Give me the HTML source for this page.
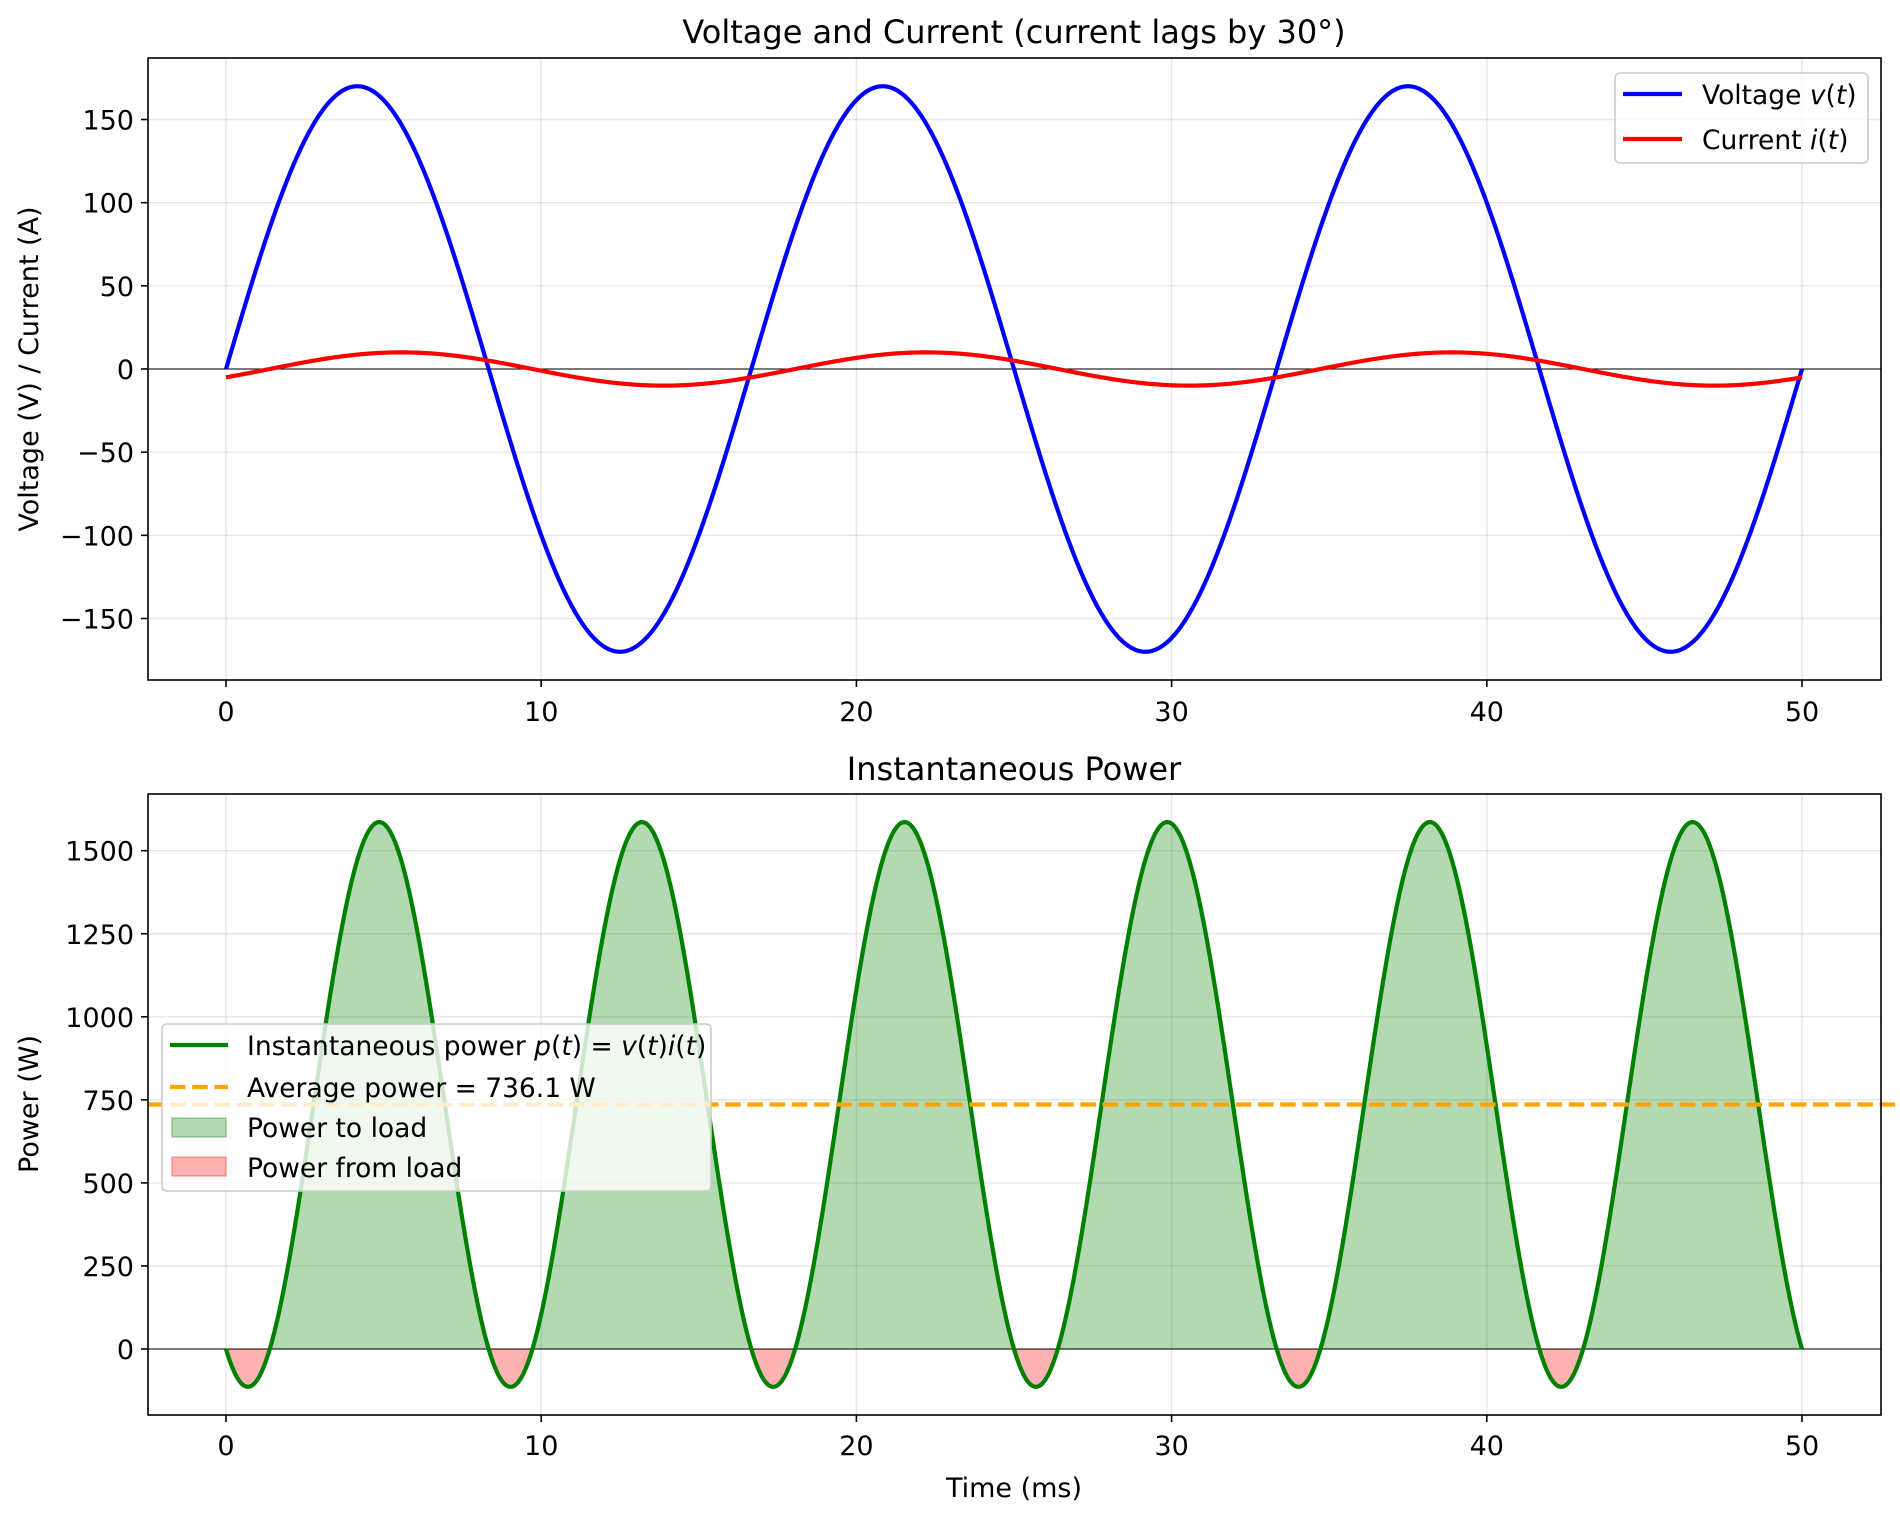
<!DOCTYPE html>
<html><head><meta charset="utf-8">
<style>
html,body{margin:0;padding:0;background:#fff;}
svg{display:block;font-family:"DejaVu Sans","Liberation Sans",sans-serif;}
</style></head>
<body>
<svg id="s" width="1900" height="1516" xmlns="http://www.w3.org/2000/svg">
<rect width="1900" height="1516" fill="#fff"/>
<g id="g"></g>
</svg>
<script>
var out="";
var X=function(t){return 226+t*31.52;};
var Y1=function(v){return 369-v*1.6633;};
var Y2=function(p){return 1349-p*0.3322;};
var w=2*Math.PI*60/1000, ph=Math.PI/6;
function gridX(top,bot){for(var t=0;t<=50;t+=10){out+='<line x1="'+X(t)+'" x2="'+X(t)+'" y1="'+top+'" y2="'+bot+'" stroke="#b0b0b0" stroke-opacity="0.3" stroke-width="1.4"/>';}}
gridX(58,680);gridX(794,1415);
for(var v=-150;v<=150;v+=50){out+='<line x1="148" x2="1881" y1="'+Y1(v)+'" y2="'+Y1(v)+'" stroke="#b0b0b0" stroke-opacity="0.3" stroke-width="1.4"/>';
 out+='<line x1="141" x2="148" y1="'+Y1(v)+'" y2="'+Y1(v)+'" stroke="#000" stroke-width="1.6"/>';
 out+='<text x="134" y="'+(Y1(v)+10)+'" font-size="27" text-anchor="end">'+(v<0?'\u2212'+(-v):v)+'</text>';}
for(var p=0;p<=1500;p+=250){out+='<line x1="148" x2="1881" y1="'+Y2(p)+'" y2="'+Y2(p)+'" stroke="#b0b0b0" stroke-opacity="0.3" stroke-width="1.4"/>';
 out+='<line x1="141" x2="148" y1="'+Y2(p)+'" y2="'+Y2(p)+'" stroke="#000" stroke-width="1.6"/>';
 out+='<text x="134" y="'+(Y2(p)+10)+'" font-size="27" text-anchor="end">'+p+'</text>';}
for(var t=0;t<=50;t+=10){
 out+='<line x1="'+X(t)+'" x2="'+X(t)+'" y1="680" y2="687" stroke="#000" stroke-width="1.6"/>';
 out+='<text x="'+X(t)+'" y="721" font-size="27" text-anchor="middle">'+t+'</text>';
 out+='<line x1="'+X(t)+'" x2="'+X(t)+'" y1="1415" y2="1422" stroke="#000" stroke-width="1.6"/>';
 out+='<text x="'+X(t)+'" y="1455" font-size="27" text-anchor="middle">'+t+'</text>';}
out+='<line x1="148" x2="1881" y1="'+Y1(0)+'" y2="'+Y1(0)+'" stroke="#000" stroke-width="1.1"/>';
var N=2000, pv="", pi="", pp="", fg="", fr="";
var P=function(t){return 1700*Math.sin(w*t)*Math.sin(w*t-ph);};
for(var k=0;k<=N;k++){var t=50*k/N;
 pv+=(k?'L':'M')+X(t).toFixed(2)+','+Y1(170*Math.sin(w*t)).toFixed(2);
 pi+=(k?'L':'M')+X(t).toFixed(2)+','+Y1(10*Math.sin(w*t-ph)).toFixed(2);
 var p=P(t);
 pp+=(k?'L':'M')+X(t).toFixed(2)+','+Y2(p).toFixed(2);
 fg+='L'+X(t).toFixed(2)+','+Y2(Math.max(p,0)).toFixed(2);
 fr+='L'+X(t).toFixed(2)+','+Y2(Math.min(p,0)).toFixed(2);}
var y0=Y2(0);
out+='<path d="M'+X(0)+','+y0+fg+'L'+X(50)+','+y0+'Z" fill="#008000" fill-opacity="0.3"/>';
out+='<path d="M'+X(0)+','+y0+fr+'L'+X(50)+','+y0+'Z" fill="#ff0000" fill-opacity="0.3"/>';
out+='<line x1="148" x2="1881" y1="'+y0+'" y2="'+y0+'" stroke="#000" stroke-width="1.1"/>';
out+='<path d="'+pv+'" fill="none" stroke="#0000ff" stroke-width="4.2" stroke-linejoin="round"/>';
out+='<path d="'+pi+'" fill="none" stroke="#ff0000" stroke-width="4.2" stroke-linejoin="round"/>';
out+='<path d="'+pp+'" fill="none" stroke="#008000" stroke-width="4.2" stroke-linejoin="round"/>';
var ya=Y2(736.1);
out+='<line x1="148" x2="1900" y1="'+ya+'" y2="'+ya+'" stroke="#ffa500" stroke-width="4.2" stroke-dasharray="15.5,6.7"/>';
out+='<rect x="148" y="58" width="1733" height="622" fill="none" stroke="#000" stroke-width="1.6"/>';
out+='<rect x="148" y="794" width="1733" height="621" fill="none" stroke="#000" stroke-width="1.6"/>';
out+='<text x="1014" y="43" font-size="32" text-anchor="middle">Voltage and Current (current lags by 30\u00b0)</text>';
out+='<text x="1014" y="780" font-size="32" text-anchor="middle">Instantaneous Power</text>';
out+='<text x="1014" y="1497" font-size="27" text-anchor="middle">Time (ms)</text>';
out+='<text transform="translate(38,369) rotate(-90)" font-size="27" text-anchor="middle">Voltage (V) / Current (A)</text>';
out+='<text transform="translate(38,1104) rotate(-90)" font-size="27" text-anchor="middle">Power (W)</text>';
out+='<rect x="1615" y="73" width="253" height="90" rx="5" fill="#fff" fill-opacity="0.8" stroke="#cccccc" stroke-width="1.6"/>';
out+='<line x1="1623" x2="1682" y1="94" y2="94" stroke="#0000ff" stroke-width="4.2"/>';
out+='<text x="1702" y="104" font-size="26.5">Voltage <tspan font-style="italic">v</tspan>(<tspan font-style="italic">t</tspan>)</text>';
out+='<line x1="1623" x2="1682" y1="139" y2="139" stroke="#ff0000" stroke-width="4.2"/>';
out+='<text x="1702" y="149" font-size="26.5">Current <tspan font-style="italic">i</tspan>(<tspan font-style="italic">t</tspan>)</text>';
out+='<rect x="162" y="1024" width="549" height="167" rx="5" fill="#fff" fill-opacity="0.8" stroke="#cccccc" stroke-width="1.6"/>';
out+='<line x1="170" x2="228" y1="1045" y2="1045" stroke="#008000" stroke-width="4.2"/>';
out+='<text x="247" y="1055" font-size="26.5">Instantaneous power <tspan font-style="italic">p</tspan>(<tspan font-style="italic">t</tspan>) = <tspan font-style="italic">v</tspan>(<tspan font-style="italic">t</tspan>)<tspan font-style="italic">i</tspan>(<tspan font-style="italic">t</tspan>)</text>';
out+='<line x1="170" x2="228" y1="1087" y2="1087" stroke="#ffa500" stroke-width="4.2" stroke-dasharray="15.5,6.7"/>';
out+='<text x="247" y="1097" font-size="26.5">Average power = 736.1 W</text>';
out+='<rect x="172" y="1118" width="54" height="19" fill="#008000" fill-opacity="0.3" stroke="#008000" stroke-opacity="0.3" stroke-width="1.6"/>';
out+='<text x="247" y="1137" font-size="26.5">Power to load</text>';
out+='<rect x="172" y="1157" width="54" height="19" fill="#ff0000" fill-opacity="0.3" stroke="#ff0000" stroke-opacity="0.3" stroke-width="1.6"/>';
out+='<text x="247" y="1177" font-size="26.5">Power from load</text>';
document.getElementById("g").innerHTML=out;
</script>
</body></html>
